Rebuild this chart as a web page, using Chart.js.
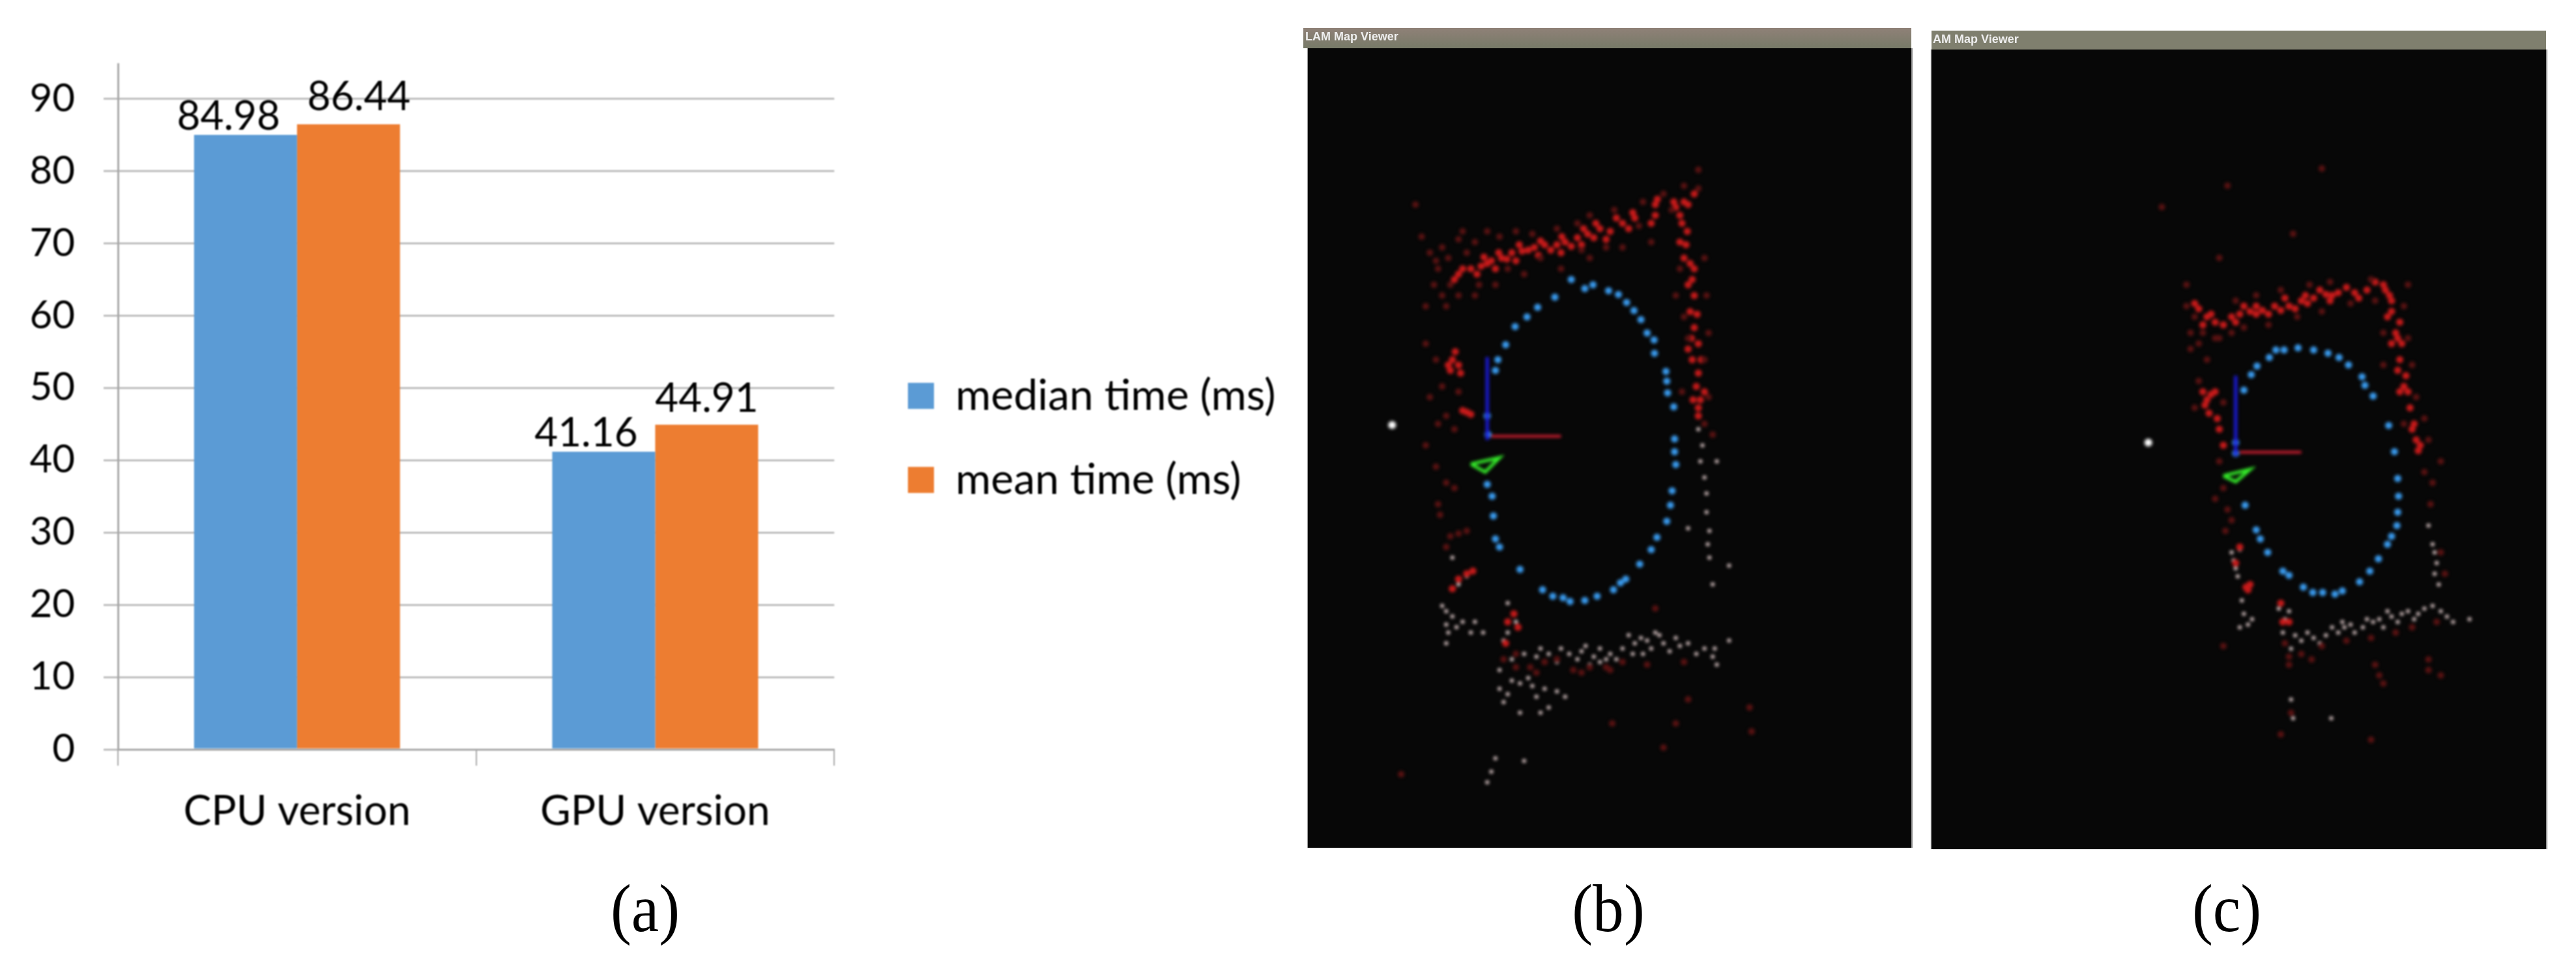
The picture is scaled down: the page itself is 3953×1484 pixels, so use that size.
<!DOCTYPE html>
<html>
<head>
<meta charset="utf-8">
<title>CPU and GPU time with map views</title>
<script src="https://cdn.jsdelivr.net/npm/chart.js@4/dist/chart.umd.min.js"></script>
<style>
    html, body { margin: 0; padding: 0; background: #fff; }
    body { position: relative; width: 3953px; height: 1484px; overflow: hidden; }
    canvas { position: absolute; }
    #barChart { left: 0; top: 0; filter: blur(1px); }
    #mapB, #mapC { filter: blur(2.5px); }
    .panel { position: absolute; background: #070707; box-shadow: 2px 0 1px #999, -1px 0 1px #999; }
    .titlebar { position: absolute; color: #eee; font: bold 18px "Liberation Sans"; line-height: 26px; white-space: nowrap; filter: blur(0.6px); }
    .letter { position: absolute; font: 104px "Liberation Serif"; color: #000; transform: translateX(-50%) scaleX(0.92); line-height: 104px; }
</style>
</head>
<body>
<canvas id="barChart" width="1990" height="1340"></canvas>

<div class="panel" style="left:2007px;top:74px;width:926px;height:1227px"></div>
<div class="titlebar" style="left:2000px;top:43px;width:933px;height:31px;background:linear-gradient(#8f8177,#777a68);padding-left:3px;box-sizing:border-box">LAM Map Viewer</div>
<canvas id="mapB" width="926" height="1227" style="left:2007px;top:74px"></canvas>

<div class="panel" style="left:2964px;top:76px;width:943px;height:1227px"></div>
<div class="titlebar" style="left:2964px;top:47px;width:943px;height:29px;background:#7f7f6e;padding-left:2px;box-sizing:border-box">AM Map Viewer</div>
<canvas id="mapC" width="943" height="1227" style="left:2964px;top:76px"></canvas>

<div class="letter" style="left:990px;top:1342px">(a)</div>
<div class="letter" style="left:2468px;top:1342px">(b)</div>
<div class="letter" style="left:3417px;top:1342px">(c)</div>

<script>
// Bar chart data
const categories = ['CPU version', 'GPU version'];
const medianTime = [84.98, 41.16];
const meanTime = [86.44, 44.91];
const yTicks = [0, 10, 20, 30, 40, 50, 60, 70, 80, 90];
const seriesNames = ['median time (ms)', 'mean time (ms)'];

// Map view (b)
const bBlue = [[675,490],[708,507],[728,500],[766,511],[790,518],[810,533],[828,548],[845,565],[860,590],[877,603],[878,628],[906,662],[908,680],[910,702],[925,728],[927,788],[927,812],[930,836],[921,885],[917,912],[908,942],[884,972],[870,995],[842,1022],[808,1050],[795,1057],[778,1070],[738,1082],[708,1090],[672,1092],[655,1085],[630,1082],[605,1070],[550,1032],[500,990],[490,975],[485,932],[482,895],[470,873],[472,780],[470,745],[490,660],[496,640],[515,612],[538,578],[567,560],[593,542],[635,523]];
const bRed = [[400,480],[430,470],[455,465],[470,460],[480,455],[505,450],[518,452],[530,440],[555,437],[570,435],[585,430],[610,425],[625,435],[640,425],[660,420],[675,428],[690,412],[715,405],[730,412],[745,395],[770,400],[800,385],[830,375],[880,370],[880,350],[930,355],[950,345],[975,330],[945,385],[955,425],[965,460],[970,490],[975,520],[965,550],[975,580],[985,610],[970,640],[985,665],[980,690],[990,715],[985,745],[385,640],[380,660],[400,650],[420,738],[410,735],[410,470],[390,490],[445,480],[462,448],[490,470],[498,440],[540,455],[548,425],[595,445],[600,418],[650,440],[652,410],[700,425],[705,395],[735,385],[760,415],[785,375],[815,395],[825,365],[870,385],[885,340],[925,345],[940,370],[960,350],[958,400],[940,420],[950,450],[975,470],[960,500],[982,555],[968,600],[960,620],[992,640],[1000,700],[972,715],[985,730],[375,650],[392,625],[405,665],[430,742],[400,1050],[420,1040],[435,1035],[385,1068],[520,1130],[535,1115],[545,1140],[515,1170]];
const bDim = [[330,440],[360,430],[400,415],[420,440],[380,500],[450,500],[520,470],[600,450],[700,435],[760,430],[840,390],[310,410],[295,350],[350,470],[320,540],[320,610],[370,540],[330,710],[370,745],[320,800],[370,870],[350,910],[960,600],[1000,640],[1010,710],[945,700],[920,360],[985,285],[380,970],[400,965],[420,960],[370,990],[540,1215],[590,1225],[700,1225],[770,1220],[880,1105],[930,1320],[1110,1290],[1115,1335],[260,1415],[775,1320],[900,1365],[960,1275],[345,455],[375,450],[410,400],[440,420],[470,400],[500,410],[540,400],[580,405],[640,395],[690,385],[720,370],[780,360],[850,345],[900,330],[950,315],[985,320],[1000,450],[1005,520],[1010,590],[940,470],[930,520],[950,560],[340,500],[360,520],[400,520],[440,520],[490,500],[560,480],[650,470],[720,450],[800,430],[870,420],[345,640],[360,690],[400,700],[350,760],[390,770],[345,840],[390,880],[355,930],[1000,760],[1020,780],[510,1200],[540,1190],[575,1215],[610,1205],[640,1200],[680,1220],[720,1215],[760,1215],[800,1205],[860,1210],[950,1205]];
const bPale = [[985,770],[995,800],[990,830],[1000,860],[1005,890],[1005,925],[1012,960],[1008,985],[1012,1010],[1020,1060],[960,955],[1030,830],[1060,1025],[385,1010],[420,1045],[400,1060],[385,1120],[370,1135],[410,1130],[440,1130],[370,1170],[520,1095],[540,1130],[520,1150],[510,1165],[530,1200],[560,1190],[590,1195],[620,1190],[650,1180],[690,1200],[730,1195],[770,1190],[800,1180],[830,1170],[860,1165],[900,1170],[940,1175],[980,1190],[1020,1195],[1030,1210],[710,1175],[745,1205],[850,1190],[880,1150],[500,1255],[520,1265],[550,1245],[590,1270],[620,1290],[550,1300],[490,1385],[480,1410],[470,1430],[560,1390],[640,1260],[1060,1165],[600,1180],[640,1205],[670,1190],[700,1185],[720,1210],[745,1180],[760,1200],[785,1200],[815,1155],[825,1190],[845,1160],[870,1180],[890,1155],[915,1185],[930,1160],[960,1170],[1000,1180],[1025,1180],[500,1220],[530,1240],[570,1235],[510,1280],[580,1250],[610,1255],[660,1270],[600,1300],[370,1110],[395,1140],[430,1150],[460,1150],[375,1150],[360,1100]];
const bBlueAxis = [[470,635],[470,790]];
const bRedAxis = [[480,783],[650,783]];
const bCamera = [[430,835],[500,823],[465,850],[430,835]];
const bMarker = [[238,762]];

// Map view (c)
const cBlue = [[922,618],[960,622],[995,628],[1022,636],[1045,650],[1078,672],[1085,688],[1105,708],[1143,763],[1157,812],[1165,862],[1167,895],[1165,925],[1163,950],[1150,970],[1140,985],[1118,1012],[1097,1035],[1072,1055],[1030,1072],[1012,1078],[982,1075],[958,1075],[935,1065],[900,1043],[885,1035],[848,1000],[830,975],[820,958],[793,912],[770,815],[770,795],[790,697],[808,668],[822,652],[852,636],[868,622],[888,622]];
const cRed = [[680,545],[700,560],[720,570],[760,560],[780,555],[805,550],[820,555],[835,548],[865,540],[880,548],[900,540],[930,530],[945,535],[960,525],[990,518],[1005,520],[1020,515],[1060,515],[1090,510],[1130,500],[1145,520],[1150,550],[1160,590],[1165,600],[1170,640],[1180,690],[1195,730],[1210,790],[1215,810],[700,715],[710,705],[695,725],[730,770],[740,800],[795,1065],[805,1060],[670,535],[690,575],[710,555],[740,575],[770,570],[790,540],[820,540],[850,555],[890,525],[915,545],[940,520],[975,510],[1000,530],[1040,505],[1070,525],[1110,495],[1135,510],[1150,530],[1140,560],[1170,570],[1150,610],[1175,610],[1165,660],[1185,670],[1170,700],[1190,700],[1205,760],[1200,770],[1220,800],[690,700],[720,700],[705,740],[725,750],[780,990],[800,1070],[770,1020],[880,1095],[900,1130],[885,1130]];
const cDim = [[670,560],[690,590],[760,590],[660,620],[700,640],[820,520],[1000,495],[1100,490],[1190,500],[1180,760],[1230,850],[1270,830],[650,500],[720,600],[740,880],[750,920],[745,960],[1245,910],[1120,1230],[1240,1220],[1130,1245],[900,1210],[955,1200],[905,1300],[880,1340],[1100,1350],[740,1175],[980,283],[750,315],[590,355],[910,405],[730,450],[1230,750],[650,540],[660,590],[680,610],[730,600],[790,580],[850,575],[920,560],[980,550],[1050,535],[1110,530],[770,530],[880,510],[950,500],[1180,540],[1190,600],[1130,590],[1130,650],[1200,650],[1210,710],[1240,790],[1250,870],[680,680],[670,730],[740,720],[730,830],[720,900],[760,940],[1270,1000],[1280,1040],[890,1170],[900,1195],[930,1190],[980,1175],[1040,1165],[1100,1160],[1160,1150],[1200,1140],[1260,1130],[1110,1210],[1240,1200],[1270,1230]];
const cPale = [[1240,950],[1250,985],[1260,1020],[1265,1060],[780,995],[765,1015],[775,1045],[790,1115],[800,1135],[875,1105],[890,1125],[900,1110],[885,1150],[905,1180],[930,1165],[960,1160],[990,1155],[1020,1150],[1050,1135],[1080,1140],[1120,1125],[1150,1120],[1190,1110],[1230,1105],[1270,1110],[1300,1130],[1035,1140],[1105,1130],[1165,1130],[1205,1125],[1003,1310],[1340,1125],[915,1155],[945,1150],[975,1170],[1005,1140],[1030,1130],[1060,1150],[1090,1125],[1130,1140],[1140,1110],[1175,1115],[1215,1115],[1250,1100],[1285,1120],[770,1030],[760,1000],[785,1090],[810,1125],[780,1140],[1255,1000],[905,1275],[910,1310],[1255,1040]];
const cBlueAxis = [[770,670],[770,820]];
const cRedAxis = [[780,813],[930,813]];
const cCamera = [[740,857],[805,845],[770,868],[740,857]];
const cMarker = [[557,795]];

// Label nudges, the labels do not sit centred over the bars in the original
const labelOffsets = [[[-26, -8], [16, -22]], [[-27, -8], [0, -20]]];

const labelFont = '62px Lato';
const axisGray = '#a8a8a8';

// Draw the value above each bar
const barValueLabels = {
    id: 'barValueLabels',
    afterDatasetsDraw(chart) {
        const ctx = chart.ctx;
        ctx.save();
        ctx.font = labelFont;
        ctx.fillStyle = '#000';
        ctx.textAlign = 'center';
        ctx.textBaseline = 'alphabetic';
        chart.data.datasets.forEach((dataset, i) => {
            chart.getDatasetMeta(i).data.forEach((bar, j) => {
                const offset = labelOffsets[j][i];
                ctx.fillText(dataset.data[j].toFixed(2), bar.x + offset[0], bar.y + offset[1]);
            });
        });
        ctx.restore();
    }
};

// Move the legend to where it sits in the original, its box also clips the text so widen it
const legendShift = {
    id: 'legendShift',
    afterLayout(chart) {
        chart.legend.left += 50;
        chart.legend.right = chart.width;
        chart.legend.top -= 47;
        chart.legend.bottom -= 47;
    }
};

new Chart(document.getElementById('barChart').getContext('2d'), {
    type: 'bar',
    data: {
        labels: categories,
        datasets: [
            { label: seriesNames[0], data: medianTime, backgroundColor: '#5b9bd5' },
            { label: seriesNames[1], data: meanTime, backgroundColor: '#ed7d31' }
        ]
    },
    options: {
        responsive: false,
        animation: false,
        categoryPercentage: 0.575,
        barPercentage: 1,
        layout: { padding: { top: 98, right: 283, bottom: 0, left: 0 } },
        plugins: {
            tooltip: { enabled: false },
            legend: {
                position: 'right',
                labels: {
                    boxWidth: 40,
                    boxHeight: 40,
                    padding: 63,
                    color: '#000',
                    font: { family: 'Lato', size: 66 }
                }
            }
        },
        scales: {
            x: {
                afterFit(scale) { scale.height = 190; },
                border: { color: axisGray, width: 3 },
                grid: { offset: true, drawOnChartArea: false, color: axisGray, lineWidth: 2, tickLength: 25 },
                ticks: { color: '#000', padding: 32, font: { family: 'Lato', size: 64 } }
            },
            y: {
                min: 0,
                max: 94.8,
                afterFit(scale) { scale.width = 181; },
                afterBuildTicks(scale) { scale.ticks = yTicks.map(value => ({ value })); },
                border: { color: axisGray, width: 3 },
                grid: { color: '#bdbdbd', lineWidth: 3, tickLength: 22 },
                ticks: { color: '#000', padding: 44, font: { family: 'Lato', size: 60 } }
            }
        }
    },
    plugins: [barValueLabels, legendShift]
});

// One of the two dark map views, drawn as a scatter chart in its own picture coordinates
function drawMapView(canvasId, range, points) {
    const dots = (data, color, radius) => ({ data, backgroundColor: color, borderWidth: 0, pointRadius: radius });
    const line = (data, color, width) => ({ data, borderColor: color, borderWidth: width, showLine: true, pointRadius: 0 });

    new Chart(document.getElementById(canvasId).getContext('2d'), {
        type: 'scatter',
        data: {
            datasets: [
                dots(points.dim, '#5a1212', 5),
                dots(points.red, '#c81a1a', 5.5),
                dots(points.pale, '#e6d0d0', 3),
                line(points.blueAxis, '#1a1ae0', 5),
                line(points.redAxis, '#d81e32', 4),
                dots(points.blue, '#3a9cf0', 5.5),
                line(points.camera, '#35f02a', 5),
                dots(points.marker, '#ffffff', 6)
            ]
        },
        options: {
            responsive: false,
            animation: false,
            parsing: { xAxisKey: 0, yAxisKey: 1 },
            plugins: { legend: { display: false }, tooltip: { enabled: false } },
            scales: {
                x: { display: false, min: range.xMin, max: range.xMax },
                y: { display: false, reverse: true, min: range.yMin, max: range.yMax }
            }
        }
    });
}

drawMapView('mapB', { xMin: 42, xMax: 1495, yMin: 65, yMax: 1545 }, {
    blue: bBlue, red: bRed, dim: bDim, pale: bPale,
    blueAxis: bBlueAxis, redAxis: bRedAxis, camera: bCamera, marker: bMarker
});

drawMapView('mapC', { xMin: 38, xMax: 1517, yMin: 68, yMax: 1547 }, {
    blue: cBlue, red: cRed, dim: cDim, pale: cPale,
    blueAxis: cBlueAxis, redAxis: cRedAxis, camera: cCamera, marker: cMarker
});
</script>
</body>
</html>
